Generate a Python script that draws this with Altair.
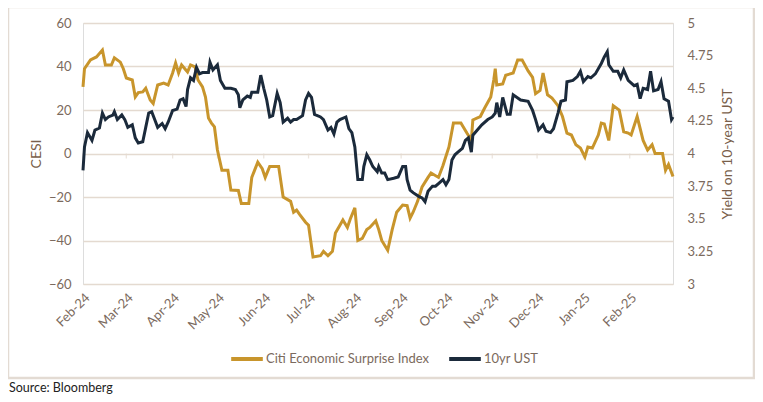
import altair as alt
import pandas as pd

# ---- data ----
series_names = ["Citi Economic Surprise Index", "10yr UST"]
series_colors = ["#C8952C", "#1B2A3B"]

cesi_days = [0, 1, 5, 9, 13, 15, 19, 21, 25, 27, 29, 33, 35, 37, 40, 42, 45, 47, 50, 54,
             57, 60, 62, 64, 66, 70, 72, 75, 77, 80, 82, 84, 86, 88, 90, 93, 97, 99, 104, 106,
             111, 113, 117, 120, 122, 125, 131, 134, 139, 141, 143, 145, 149, 151, 154, 159, 161, 164, 167, 169,
             172, 174, 177, 179, 182, 184, 187, 190, 192, 196, 198, 200, 204, 207, 210, 214, 217, 219, 221, 224,
             227, 231, 233, 238, 241, 245, 248, 253, 257, 260, 261, 266, 269, 273, 275, 276, 277, 281, 283, 288,
             291, 294, 298, 301, 303, 306, 308, 311, 314, 318, 321, 324, 327, 330, 333, 336, 338, 341, 345, 347,
             349, 352, 355, 359, 362, 365, 367, 371, 375, 378, 381, 383, 388, 390, 392, 395]
cesi_vals = [30.6, 39, 43, 44.4, 47.6, 40.7, 40.7, 44, 42, 39, 34.7, 33.8, 26, 28, 28.3, 30, 24.6, 23, 31.5, 32.4,
             31.5, 37, 41.6, 37, 40.7, 37.5, 40.7, 39.8, 33.8, 30.6, 26, 16.3, 14, 12.2, 1.6, -7.7, -7.7, -16.8, -17, -23,
             -23, -11, -4, -7, -11, -6, -6, -20, -22, -27, -26, -28, -31.6, -33, -47.6, -47, -45, -47, -45, -36.6,
             -33, -30.6, -34, -30, -25, -40, -39, -35, -34, -31, -35, -40, -44.5, -35, -27, -23.7, -24, -29.7, -27, -22,
             -15.4, -11, -9, -11, -5.5, 3, 14, 14, 9.4, 6.2, 15.4, 17, 21, 26, 33.8, 39, 31.5, 32, 36, 37,
             43, 43, 38, 35, 27.5, 29, 37, 27, 25.5, 22, 17, 9.4, 8.5, 4, 2.5, -1.6, 3, 2.5, 8.5, 14,
             13.6, 6, 22, 20, 10, 9.4, 8.5, 17, 6, 1.6, 4, 0, 0, -7.7, -5, -10.6]

ust_days = [0, 1, 3, 6, 8, 11, 13, 15, 17, 20, 21, 23, 26, 28, 30, 33, 35, 37, 40, 42,
            44, 46, 48, 50, 53, 55, 57, 60, 63, 65, 67, 69, 70, 72, 74, 76, 78, 80, 84, 85,
            87, 90, 92, 95, 99, 102, 104, 105, 107, 110, 112, 113, 117, 119, 121, 123, 125, 127, 130, 132,
            134, 137, 139, 141, 143, 147, 149, 151, 153, 155, 159, 161, 164, 166, 168, 170, 172, 176, 178, 180,
            182, 184, 187, 188, 190, 192, 194, 197, 198, 200, 202, 204, 208, 211, 214, 216, 217, 219, 221, 225,
            227, 229, 231, 234, 236, 238, 241, 243, 245, 247, 249, 251, 254, 256, 258, 260, 261, 264, 267, 271,
            274, 276, 277, 279, 281, 284, 286, 288, 293, 298, 301, 303, 305, 308, 310, 313, 315, 318, 320, 323,
            324, 328, 331, 333, 335, 338, 340, 343, 347, 349, 351, 352, 355, 358, 360, 362, 365, 369, 371, 373,
            375, 378, 380, 382, 385, 387, 389, 392, 394, 395]
ust_vals = [3.87, 4.05, 4.16, 4.10, 4.18, 4.195, 4.31, 4.26, 4.28, 4.295, 4.32, 4.26, 4.295, 4.26, 4.20, 4.22, 4.12, 4.08, 4.09, 4.20,
            4.31, 4.32, 4.26, 4.20, 4.23, 4.19, 4.24, 4.33, 4.34, 4.41, 4.42, 4.36, 4.49, 4.58, 4.56, 4.66, 4.61, 4.62, 4.62, 4.70,
            4.64, 4.68, 4.56, 4.50, 4.50, 4.49, 4.45, 4.35, 4.41, 4.44, 4.43, 4.47, 4.47, 4.60, 4.50, 4.41, 4.28, 4.29, 4.46, 4.39,
            4.24, 4.27, 4.24, 4.26, 4.26, 4.29, 4.41, 4.46, 4.43, 4.30, 4.28, 4.26, 4.18, 4.20, 4.15, 4.24, 4.26, 4.28, 4.19, 4.16,
            4.05, 3.80, 3.80, 3.90, 3.99, 3.95, 3.90, 3.86, 3.90, 3.85, 3.85, 3.80, 3.81, 3.82, 3.90, 3.90, 3.80, 3.72, 3.70, 3.67,
            3.66, 3.63, 3.71, 3.75, 3.75, 3.77, 3.80, 3.76, 3.80, 3.95, 3.99, 4.01, 4.04, 4.10, 4.12, 4.01, 4.14, 4.18, 4.22, 4.26,
            4.28, 4.31, 4.39, 4.28, 4.43, 4.30, 4.30, 4.45, 4.41, 4.40, 4.33, 4.26, 4.18, 4.22, 4.17, 4.16, 4.19, 4.31, 4.40, 4.41,
            4.55, 4.56, 4.59, 4.63, 4.55, 4.59, 4.58, 4.61, 4.69, 4.74, 4.78, 4.68, 4.63, 4.63, 4.58, 4.64, 4.56, 4.52, 4.53, 4.42,
            4.50, 4.49, 4.63, 4.48, 4.49, 4.55, 4.42, 4.40, 4.26, 4.28]

month_ticks = ["2024-02-01", "2024-03-01", "2024-04-01", "2024-05-01", "2024-06-01", "2024-07-01",
               "2024-08-01", "2024-09-01", "2024-10-01", "2024-11-01", "2024-12-01", "2025-01-01",
               "2025-02-01"]
cesi_ticks = [-60, -40, -20, 0, 20, 40, 60]
ust_ticks = [3, 3.25, 3.5, 3.75, 4, 4.25, 4.5, 4.75, 5]
source_text = ["Source:  Bloomberg"]

# ---- tables ----
start = pd.Timestamp("2024-02-01")
cesi_df = pd.DataFrame({"date": start + pd.to_timedelta(cesi_days, unit="D"),
                        "value": cesi_vals, "series": series_names[0]})
ust_df = pd.DataFrame({"date": start + pd.to_timedelta(ust_days, unit="D"),
                       "value": ust_vals, "series": series_names[1]})
tick_df = pd.DataFrame({"date": pd.to_datetime(month_ticks)})

FONT = "Lato"
LABEL = "#7B6A5D"
TITLE = "#7A5F4B"
GRID = "#E4DAD0"

tick_dates = [alt.DateTime(year=int(m[:4]), month=int(m[5:7]), date=1) for m in month_ticks]
x_scale = alt.Scale(domain=[alt.DateTime(year=2024, month=2, date=1),
                            alt.DateTime(year=2025, month=3, date=2)])
x_axis = alt.Axis(values=tick_dates, format="%b-%y", labelAngle=-45, grid=False, domain=False,
                  ticks=False, title=None, labelPadding=7, labelFont=FONT, labelFontSize=13,
                  labelColor=LABEL)

color = alt.Color("series:N", scale=alt.Scale(domain=series_names, range=series_colors),
                  legend=alt.Legend(orient="none", legendX=146, legendY=318, direction="horizontal",
                                    title=None, symbolType="stroke", symbolSize=1000,
                                    symbolStrokeWidth=4, labelFont=FONT, labelFontSize=13,
                                    labelColor=LABEL, columnPadding=12, labelOffset=1,
                                    labelLimit=400))

left_scale = alt.Scale(domain=[-60, 60], nice=False, zero=False)
gold = alt.Chart(cesi_df).mark_line(strokeWidth=3).encode(
    x=alt.X("date:T", scale=x_scale, axis=x_axis),
    y=alt.Y("value:Q", scale=left_scale,
            axis=alt.Axis(orient="left", values=cesi_ticks, grid=True, gridColor=GRID, gridWidth=1.3,
                          domain=False, ticks=False, title="CESI", titleFont=FONT, titleFontSize=14,
                          titleFontWeight="normal", titleColor=TITLE, titlePadding=5,
                          labelFont=FONT, labelFontSize=13, labelColor=LABEL, labelPadding=12)),
    color=color,
)
zero_ticks = alt.Chart(tick_df).mark_tick(orient="vertical", size=5, thickness=1.3, color=GRID,
                                          yOffset=2.5).encode(
    x=alt.X("date:T", scale=x_scale),
    y=alt.datum(0, scale=left_scale),
)
left_layer = alt.layer(zero_ticks, gold)

navy = alt.Chart(ust_df).mark_line(strokeWidth=3).encode(
    x=alt.X("date:T", scale=x_scale),
    y=alt.Y("value:Q", scale=alt.Scale(domain=[3, 5], nice=False, zero=False),
            axis=alt.Axis(orient="right", values=ust_ticks, labelExpr="'' + datum.value", grid=False,
                          domain=False, ticks=False, title="Yield on 10-year UST", titleAngle=270,
                          titleFont=FONT, titleFontSize=14, titleFontWeight="normal",
                          titleColor=TITLE, titlePadding=22, labelFont=FONT, labelFontSize=13,
                          labelColor=LABEL, labelPadding=14)),
    color=color,
)

border = alt.Chart(pd.DataFrame({"a": [0]})).mark_rect(fill="transparent", stroke="#E3DBD3",
                                                       strokeWidth=2.5).encode(
    x=alt.value(-75), x2=alt.value(671), y=alt.value(-16), y2=alt.value(355))

source = alt.Chart(pd.DataFrame({"t": source_text})).mark_text(
    align="left", baseline="middle", font=FONT, fontSize=12.5, color="#222222").encode(
    text="t:N", x=alt.value(-74), y=alt.value(365))

chart = alt.layer(border, left_layer, navy, source).resolve_scale(y="independent").properties(
    width=590, height=261,
    autosize=alt.AutoSizeParams(type="none"),
    padding={"left": 75, "top": 15, "right": 82, "bottom": 110},
).configure_view(stroke=None).configure(background="white")

chart.save("out.html", embed_options={"renderer": "svg", "actions": False})
